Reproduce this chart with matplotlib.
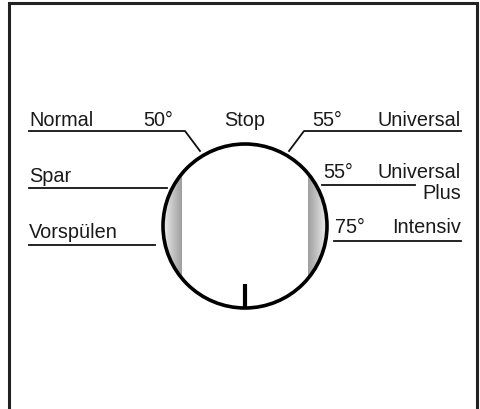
import numpy as np
import matplotlib
matplotlib.use("Agg")
import matplotlib.pyplot as plt
from matplotlib.patches import Circle

# Program labels of the dial
left_labels = ["Normal", "Spar", "Vorspülen"]
left_temps = ["50°", "", ""]
right_labels = ["Universal", "Universal\nPlus", "Intensiv"]
right_temps = ["55°", "55°", "75°"]
top_label = "Stop"

FONT = "Liberation Sans"
FS = 14.3

fig = plt.figure(figsize=(4.81, 4.10), dpi=100)
ax = fig.add_axes([0, 0, 1, 1])
ax.set_xlim(0, 481)
ax.set_ylim(410, 0)
ax.axis("off")

# frame (open at bottom)
ax.plot([9.5, 9.5, 477.5, 477.5], [410, 3.5, 3.5, 410], color="#222222", lw=2.2,
        solid_joinstyle="miter", solid_capstyle="butt")

cx, cy, r = 245, 227, 82

# shaded side bands clipped by circle
clip = Circle((cx, cy), r, transform=ax.transData)
grad_l = np.linspace(0.93, 0.62, 64)[None, :]
im1 = ax.imshow(grad_l, cmap="gray", vmin=0, vmax=1, extent=(cx - r, 182, cy + r, cy - r),
                aspect="auto", interpolation="bilinear", zorder=1)
im1.set_clip_path(clip)
clip2 = Circle((cx, cy), r, transform=ax.transData)
grad_r = np.linspace(0.62, 0.93, 64)[None, :]
im2 = ax.imshow(grad_r, cmap="gray", vmin=0, vmax=1, extent=(308, cx + r, cy + r, cy - r),
                aspect="auto", interpolation="bilinear", zorder=1)
im2.set_clip_path(clip2)
ax.set_xlim(0, 481)
ax.set_ylim(410, 0)

ax.add_patch(Circle((cx, cy), r, fill=False, ec="black", lw=2.6, zorder=3))
# pointer
ax.plot([cx, cx], [285, cy + r], color="black", lw=3.0, solid_capstyle="butt", zorder=3)

lc = "#111111"
lw = 1.3
# left leader lines
ax.plot([29, 185, 200], [132, 132, 152], color=lc, lw=lw)
ax.plot([29, 167], [189, 189], color=lc, lw=lw)
ax.plot([29, 155], [246, 246], color=lc, lw=lw)
# right leader lines
ax.plot([461, 304, 289], [132, 132, 152], color=lc, lw=lw)
ax.plot([322, 415], [186, 186], color=lc, lw=lw)
ax.plot([334, 461], [242, 242], color=lc, lw=lw)

tc = "#1a1a1a"
kw = dict(fontsize=FS, family=FONT, color=tc, va="baseline")
left_y = [126, 182, 238]
for lab, tmp, y in zip(left_labels, left_temps, left_y):
    ax.text(29, y, lab, ha="left", **kw)
    if tmp:
        ax.text(143, y, tmp, ha="left", **kw)

ax.text(245, 126, top_label, ha="center", **kw)

right_y = [126, 178, 233]
temp_x = [312, 323, 335]
for lab, tmp, y, tx in zip(right_labels, right_temps, right_y, temp_x):
    parts = lab.split("\n")
    ax.text(461, y, parts[0], ha="right", **kw)
    if len(parts) > 1:
        ax.text(461, y + 21, parts[1], ha="right", **kw)
    ax.text(tx, y, tmp, ha="left", **kw)

fig.savefig("out.png", dpi=100)
